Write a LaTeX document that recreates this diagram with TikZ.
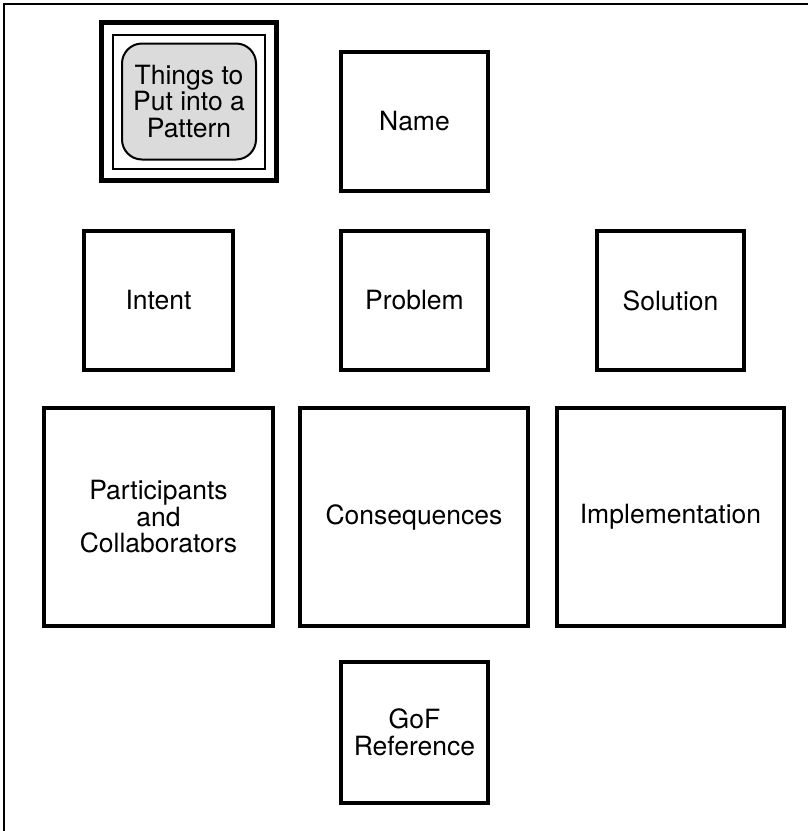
\documentclass[tikz,border=0pt]{standalone}
\usepackage{fontspec}
\setmainfont{TeX Gyre Heros}
\tikzset{
  card/.style={draw,line width=4pt,align=center,inner sep=0pt,
    font=\fontsize{26.5}{26.5}\selectfont},
  framebox/.style={draw,line width=2pt,inner sep=0pt}
}
\begin{document}
\begin{tikzpicture}[x=1pt,y=-1pt]
  \useasboundingbox (0,0) rectangle (808,831);
  \draw[line width=2.5pt] (808,4) -- (4,4) -- (4,831);
  % title block
  \node[draw,line width=5pt,minimum width=175,minimum height=158] (title) at (189,101.5) {};
  \node[framebox,minimum width=152,minimum height=134] (titlein) at (title.center) {};
  \node[framebox,fill=gray!28,rounded corners=20pt,minimum width=134,minimum height=116,
    align=center,font=\fontsize{26.5}{26.5}\selectfont] (titletext) at (title.center)
    {Things to\\Put into a\\Pattern};
  % rows of cards
  \node[card,minimum width=147,minimum height=139] (name) at (414.5,121.5) {Name};
  \node[card,minimum width=149,minimum height=139] (intent) at (158.5,300.5) {Intent};
  \node[card,minimum width=147,minimum height=139] (problem) at (414.5,300.5) {Problem};
  \node[card,minimum width=147,minimum height=139] (solution) at (670.5,300.5) {Solution};
  \node[card,minimum width=229,minimum height=218] (partic) at (158.5,517) {Participants\\and\\Collaborators};
  \node[card,minimum width=228,minimum height=218] (conseq) at (414,517) {Consequences};
  \node[card,minimum width=227,minimum height=218] (implem) at (670.5,517) {Implementation};
  \node[card,minimum width=147,minimum height=141] (gof) at (414.5,732.5) {GoF\\Reference};
\end{tikzpicture}
\end{document}
